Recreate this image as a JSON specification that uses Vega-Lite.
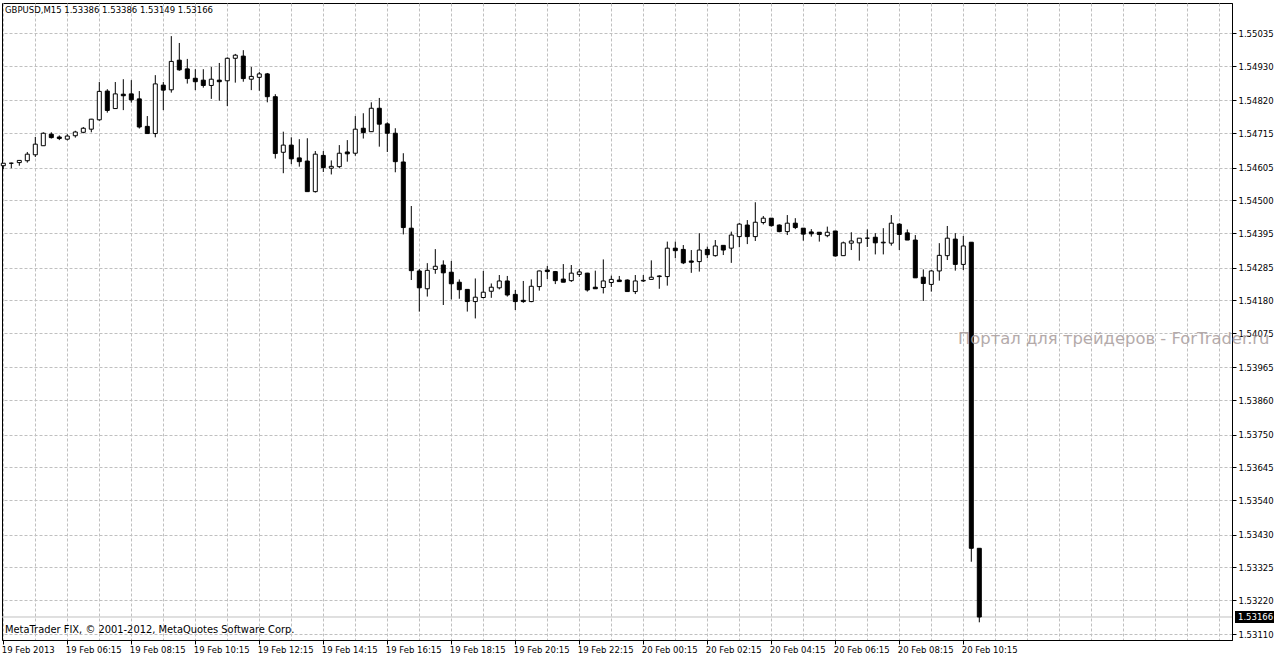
{
  "$schema": "https://vega.github.io/schema/vega-lite/v6.json",
  "width": 1230,
  "height": 637,
  "autosize": {"type": "none"},
  "padding": {"left": 2, "top": 3, "right": 42, "bottom": 15},
  "background": "white",
  "config": {
    "view": {"stroke": "black", "strokeWidth": 1},
    "axis": {"labelFont": "DejaVu Sans", "labelColor": "black", "domainColor": "black", "tickColor": "black"}
  },
  "data": {
    "format": {"parse": {"t": "utc:'%Y-%m-%d %H:%M'"}},
    "values": [
      {"t": "2013-02-19 04:15", "o": 1.54611, "h": 1.54619, "l": 1.54600, "c": 1.54619},
      {"t": "2013-02-19 04:30", "o": 1.54619, "h": 1.54621, "l": 1.54603, "c": 1.54619},
      {"t": "2013-02-19 04:45", "o": 1.54621, "h": 1.54628, "l": 1.54611, "c": 1.54628},
      {"t": "2013-02-19 05:00", "o": 1.54627, "h": 1.54655, "l": 1.54621, "c": 1.54648},
      {"t": "2013-02-19 05:15", "o": 1.54646, "h": 1.54703, "l": 1.54639, "c": 1.54680},
      {"t": "2013-02-19 05:30", "o": 1.54675, "h": 1.54718, "l": 1.54675, "c": 1.54715},
      {"t": "2013-02-19 05:45", "o": 1.54712, "h": 1.54718, "l": 1.54698, "c": 1.54701},
      {"t": "2013-02-19 06:00", "o": 1.54703, "h": 1.54708, "l": 1.54693, "c": 1.54698},
      {"t": "2013-02-19 06:15", "o": 1.54696, "h": 1.54712, "l": 1.54692, "c": 1.54706},
      {"t": "2013-02-19 06:30", "o": 1.54707, "h": 1.54723, "l": 1.54701, "c": 1.54719},
      {"t": "2013-02-19 06:45", "o": 1.54718, "h": 1.54735, "l": 1.54715, "c": 1.54731},
      {"t": "2013-02-19 07:00", "o": 1.54728, "h": 1.54761, "l": 1.54718, "c": 1.54760},
      {"t": "2013-02-19 07:15", "o": 1.54758, "h": 1.54879, "l": 1.54755, "c": 1.54849},
      {"t": "2013-02-19 07:30", "o": 1.54850, "h": 1.54856, "l": 1.54781, "c": 1.54788},
      {"t": "2013-02-19 07:45", "o": 1.54794, "h": 1.54879, "l": 1.54794, "c": 1.54841},
      {"t": "2013-02-19 08:00", "o": 1.54840, "h": 1.54888, "l": 1.54789, "c": 1.54835},
      {"t": "2013-02-19 08:15", "o": 1.54841, "h": 1.54885, "l": 1.54813, "c": 1.54822},
      {"t": "2013-02-19 08:30", "o": 1.54825, "h": 1.54850, "l": 1.54730, "c": 1.54735},
      {"t": "2013-02-19 08:45", "o": 1.54737, "h": 1.54770, "l": 1.54714, "c": 1.54714},
      {"t": "2013-02-19 09:00", "o": 1.54714, "h": 1.54901, "l": 1.54702, "c": 1.54873},
      {"t": "2013-02-19 09:15", "o": 1.54869, "h": 1.54879, "l": 1.54789, "c": 1.54853},
      {"t": "2013-02-19 09:30", "o": 1.54854, "h": 1.55026, "l": 1.54845, "c": 1.54945},
      {"t": "2013-02-19 09:45", "o": 1.54949, "h": 1.55004, "l": 1.54915, "c": 1.54918},
      {"t": "2013-02-19 10:00", "o": 1.54921, "h": 1.54953, "l": 1.54874, "c": 1.54890},
      {"t": "2013-02-19 10:15", "o": 1.54891, "h": 1.54920, "l": 1.54853, "c": 1.54880},
      {"t": "2013-02-19 10:30", "o": 1.54885, "h": 1.54920, "l": 1.54861, "c": 1.54868},
      {"t": "2013-02-19 10:45", "o": 1.54868, "h": 1.54927, "l": 1.54825, "c": 1.54888},
      {"t": "2013-02-19 11:00", "o": 1.54885, "h": 1.54940, "l": 1.54819, "c": 1.54880},
      {"t": "2013-02-19 11:15", "o": 1.54883, "h": 1.54958, "l": 1.54802, "c": 1.54955},
      {"t": "2013-02-19 11:30", "o": 1.54955, "h": 1.54969, "l": 1.54877, "c": 1.54965},
      {"t": "2013-02-19 11:45", "o": 1.54962, "h": 1.54981, "l": 1.54880, "c": 1.54890},
      {"t": "2013-02-19 12:00", "o": 1.54888, "h": 1.54927, "l": 1.54853, "c": 1.54897},
      {"t": "2013-02-19 12:15", "o": 1.54894, "h": 1.54911, "l": 1.54851, "c": 1.54905},
      {"t": "2013-02-19 12:30", "o": 1.54905, "h": 1.54908, "l": 1.54814, "c": 1.54832},
      {"t": "2013-02-19 12:45", "o": 1.54832, "h": 1.54840, "l": 1.54634, "c": 1.54650},
      {"t": "2013-02-19 13:00", "o": 1.54654, "h": 1.54720, "l": 1.54587, "c": 1.54677},
      {"t": "2013-02-19 13:15", "o": 1.54677, "h": 1.54702, "l": 1.54616, "c": 1.54633},
      {"t": "2013-02-19 13:30", "o": 1.54636, "h": 1.54696, "l": 1.54608, "c": 1.54624},
      {"t": "2013-02-19 13:45", "o": 1.54626, "h": 1.54699, "l": 1.54528, "c": 1.54528},
      {"t": "2013-02-19 14:00", "o": 1.54528, "h": 1.54658, "l": 1.54525, "c": 1.54648},
      {"t": "2013-02-19 14:15", "o": 1.54644, "h": 1.54658, "l": 1.54591, "c": 1.54605},
      {"t": "2013-02-19 14:30", "o": 1.54603, "h": 1.54628, "l": 1.54583, "c": 1.54609},
      {"t": "2013-02-19 14:45", "o": 1.54608, "h": 1.54677, "l": 1.54603, "c": 1.54651},
      {"t": "2013-02-19 15:00", "o": 1.54655, "h": 1.54693, "l": 1.54624, "c": 1.54649},
      {"t": "2013-02-19 15:15", "o": 1.54651, "h": 1.54770, "l": 1.54643, "c": 1.54728},
      {"t": "2013-02-19 15:30", "o": 1.54731, "h": 1.54779, "l": 1.54698, "c": 1.54717},
      {"t": "2013-02-19 15:45", "o": 1.54720, "h": 1.54814, "l": 1.54720, "c": 1.54795},
      {"t": "2013-02-19 16:00", "o": 1.54795, "h": 1.54828, "l": 1.54672, "c": 1.54744},
      {"t": "2013-02-19 16:15", "o": 1.54745, "h": 1.54750, "l": 1.54655, "c": 1.54715},
      {"t": "2013-02-19 16:30", "o": 1.54715, "h": 1.54731, "l": 1.54590, "c": 1.54624},
      {"t": "2013-02-19 16:45", "o": 1.54623, "h": 1.54651, "l": 1.54391, "c": 1.54413},
      {"t": "2013-02-19 17:00", "o": 1.54411, "h": 1.54482, "l": 1.54245, "c": 1.54275},
      {"t": "2013-02-19 17:15", "o": 1.54274, "h": 1.54280, "l": 1.54144, "c": 1.54220},
      {"t": "2013-02-19 17:30", "o": 1.54217, "h": 1.54299, "l": 1.54192, "c": 1.54276},
      {"t": "2013-02-19 17:45", "o": 1.54279, "h": 1.54344, "l": 1.54265, "c": 1.54289},
      {"t": "2013-02-19 18:00", "o": 1.54293, "h": 1.54308, "l": 1.54165, "c": 1.54268},
      {"t": "2013-02-19 18:15", "o": 1.54270, "h": 1.54306, "l": 1.54183, "c": 1.54233},
      {"t": "2013-02-19 18:30", "o": 1.54238, "h": 1.54247, "l": 1.54185, "c": 1.54214},
      {"t": "2013-02-19 18:45", "o": 1.54215, "h": 1.54215, "l": 1.54144, "c": 1.54176},
      {"t": "2013-02-19 19:00", "o": 1.54176, "h": 1.54250, "l": 1.54122, "c": 1.54190},
      {"t": "2013-02-19 19:15", "o": 1.54189, "h": 1.54274, "l": 1.54186, "c": 1.54206},
      {"t": "2013-02-19 19:30", "o": 1.54209, "h": 1.54234, "l": 1.54188, "c": 1.54222},
      {"t": "2013-02-19 19:45", "o": 1.54220, "h": 1.54261, "l": 1.54215, "c": 1.54242},
      {"t": "2013-02-19 20:00", "o": 1.54242, "h": 1.54258, "l": 1.54192, "c": 1.54197},
      {"t": "2013-02-19 20:15", "o": 1.54199, "h": 1.54213, "l": 1.54149, "c": 1.54176},
      {"t": "2013-02-19 20:30", "o": 1.54180, "h": 1.54242, "l": 1.54172, "c": 1.54176},
      {"t": "2013-02-19 20:45", "o": 1.54176, "h": 1.54247, "l": 1.54174, "c": 1.54225},
      {"t": "2013-02-19 21:00", "o": 1.54224, "h": 1.54275, "l": 1.54211, "c": 1.54274},
      {"t": "2013-02-19 21:15", "o": 1.54277, "h": 1.54290, "l": 1.54248, "c": 1.54272},
      {"t": "2013-02-19 21:30", "o": 1.54272, "h": 1.54274, "l": 1.54232, "c": 1.54243},
      {"t": "2013-02-19 21:45", "o": 1.54248, "h": 1.54296, "l": 1.54238, "c": 1.54238},
      {"t": "2013-02-19 22:00", "o": 1.54243, "h": 1.54293, "l": 1.54239, "c": 1.54267},
      {"t": "2013-02-19 22:15", "o": 1.54263, "h": 1.54280, "l": 1.54255, "c": 1.54271},
      {"t": "2013-02-19 22:30", "o": 1.54267, "h": 1.54268, "l": 1.54208, "c": 1.54213},
      {"t": "2013-02-19 22:45", "o": 1.54222, "h": 1.54275, "l": 1.54217, "c": 1.54217},
      {"t": "2013-02-19 23:00", "o": 1.54221, "h": 1.54311, "l": 1.54202, "c": 1.54242},
      {"t": "2013-02-19 23:15", "o": 1.54237, "h": 1.54259, "l": 1.54223, "c": 1.54247},
      {"t": "2013-02-19 23:30", "o": 1.54245, "h": 1.54258, "l": 1.54240, "c": 1.54240},
      {"t": "2013-02-19 23:45", "o": 1.54245, "h": 1.54247, "l": 1.54208, "c": 1.54208},
      {"t": "2013-02-20 00:00", "o": 1.54208, "h": 1.54261, "l": 1.54200, "c": 1.54242},
      {"t": "2013-02-20 00:15", "o": 1.54242, "h": 1.54261, "l": 1.54239, "c": 1.54244},
      {"t": "2013-02-20 00:30", "o": 1.54247, "h": 1.54308, "l": 1.54247, "c": 1.54254},
      {"t": "2013-02-20 00:45", "o": 1.54256, "h": 1.54260, "l": 1.54217, "c": 1.54258},
      {"t": "2013-02-20 01:00", "o": 1.54256, "h": 1.54368, "l": 1.54227, "c": 1.54347},
      {"t": "2013-02-20 01:15", "o": 1.54347, "h": 1.54368, "l": 1.54315, "c": 1.54339},
      {"t": "2013-02-20 01:30", "o": 1.54343, "h": 1.54357, "l": 1.54296, "c": 1.54300},
      {"t": "2013-02-20 01:45", "o": 1.54306, "h": 1.54341, "l": 1.54268, "c": 1.54302},
      {"t": "2013-02-20 02:00", "o": 1.54304, "h": 1.54395, "l": 1.54272, "c": 1.54341},
      {"t": "2013-02-20 02:15", "o": 1.54343, "h": 1.54352, "l": 1.54315, "c": 1.54326},
      {"t": "2013-02-20 02:30", "o": 1.54323, "h": 1.54373, "l": 1.54320, "c": 1.54354},
      {"t": "2013-02-20 02:45", "o": 1.54356, "h": 1.54356, "l": 1.54325, "c": 1.54341},
      {"t": "2013-02-20 03:00", "o": 1.54347, "h": 1.54400, "l": 1.54300, "c": 1.54389},
      {"t": "2013-02-20 03:15", "o": 1.54384, "h": 1.54428, "l": 1.54350, "c": 1.54424},
      {"t": "2013-02-20 03:30", "o": 1.54421, "h": 1.54437, "l": 1.54360, "c": 1.54384},
      {"t": "2013-02-20 03:45", "o": 1.54384, "h": 1.54494, "l": 1.54370, "c": 1.54430},
      {"t": "2013-02-20 04:00", "o": 1.54429, "h": 1.54450, "l": 1.54423, "c": 1.54443},
      {"t": "2013-02-20 04:15", "o": 1.54443, "h": 1.54443, "l": 1.54416, "c": 1.54419},
      {"t": "2013-02-20 04:30", "o": 1.54421, "h": 1.54423, "l": 1.54398, "c": 1.54400},
      {"t": "2013-02-20 04:45", "o": 1.54400, "h": 1.54453, "l": 1.54389, "c": 1.54427},
      {"t": "2013-02-20 05:00", "o": 1.54427, "h": 1.54443, "l": 1.54408, "c": 1.54413},
      {"t": "2013-02-20 05:15", "o": 1.54411, "h": 1.54411, "l": 1.54371, "c": 1.54392},
      {"t": "2013-02-20 05:30", "o": 1.54399, "h": 1.54408, "l": 1.54384, "c": 1.54393},
      {"t": "2013-02-20 05:45", "o": 1.54398, "h": 1.54398, "l": 1.54368, "c": 1.54391},
      {"t": "2013-02-20 06:00", "o": 1.54387, "h": 1.54416, "l": 1.54382, "c": 1.54398},
      {"t": "2013-02-20 06:15", "o": 1.54402, "h": 1.54402, "l": 1.54320, "c": 1.54322},
      {"t": "2013-02-20 06:30", "o": 1.54323, "h": 1.54368, "l": 1.54323, "c": 1.54364},
      {"t": "2013-02-20 06:45", "o": 1.54363, "h": 1.54398, "l": 1.54341, "c": 1.54370},
      {"t": "2013-02-20 07:00", "o": 1.54364, "h": 1.54379, "l": 1.54307, "c": 1.54379},
      {"t": "2013-02-20 07:15", "o": 1.54379, "h": 1.54407, "l": 1.54351, "c": 1.54379},
      {"t": "2013-02-20 07:30", "o": 1.54382, "h": 1.54395, "l": 1.54327, "c": 1.54364},
      {"t": "2013-02-20 07:45", "o": 1.54364, "h": 1.54411, "l": 1.54327, "c": 1.54366},
      {"t": "2013-02-20 08:00", "o": 1.54363, "h": 1.54453, "l": 1.54355, "c": 1.54427},
      {"t": "2013-02-20 08:15", "o": 1.54424, "h": 1.54427, "l": 1.54341, "c": 1.54391},
      {"t": "2013-02-20 08:30", "o": 1.54396, "h": 1.54407, "l": 1.54373, "c": 1.54373},
      {"t": "2013-02-20 08:45", "o": 1.54373, "h": 1.54389, "l": 1.54252, "c": 1.54252},
      {"t": "2013-02-20 09:00", "o": 1.54254, "h": 1.54279, "l": 1.54178, "c": 1.54234},
      {"t": "2013-02-20 09:15", "o": 1.54231, "h": 1.54277, "l": 1.54208, "c": 1.54274},
      {"t": "2013-02-20 09:30", "o": 1.54274, "h": 1.54363, "l": 1.54243, "c": 1.54324},
      {"t": "2013-02-20 09:45", "o": 1.54323, "h": 1.54418, "l": 1.54309, "c": 1.54379},
      {"t": "2013-02-20 10:00", "o": 1.54376, "h": 1.54395, "l": 1.54275, "c": 1.54295},
      {"t": "2013-02-20 10:15", "o": 1.54295, "h": 1.54386, "l": 1.54277, "c": 1.54354},
      {"t": "2013-02-20 10:30", "o": 1.54366, "h": 1.54366, "l": 1.53343, "c": 1.53386},
      {"t": "2013-02-20 10:45", "o": 1.53386, "h": 1.53386, "l": 1.53149, "c": 1.53166}
    ]
  },
  "layer": [
    {
      "data": {"values": [{}]},
      "mark": {"type": "rule", "color": "#c0c0c0", "strokeWidth": 1},
      "encoding": {"y": {"datum": 1.53166, "type": "quantitative", "title": null}}
    },
    {
      "mark": {"type": "rule", "color": "black", "strokeWidth": 1},
      "encoding": {
        "x": {
          "field": "t", "type": "temporal", "title": null,
          "scale": {"type": "utc", "domain": [1361247153750, 1361385528750], "nice": false, "padding": 0},
          "axis": {
            "values": [1361247300000, 1361250900000, 1361254500000, 1361258100000, 1361261700000, 1361265300000, 1361268900000, 1361272500000, 1361276100000, 1361279700000, 1361283300000, 1361286900000, 1361290500000, 1361294100000, 1361297700000, 1361301300000, 1361304900000, 1361308500000, 1361312100000, 1361315700000, 1361319300000, 1361322900000, 1361326500000, 1361330100000, 1361333700000, 1361337300000, 1361340900000, 1361344500000, 1361348100000, 1361351700000, 1361355300000, 1361358900000, 1361362500000, 1361366100000, 1361369700000, 1361373300000, 1361376900000, 1361380500000, 1361384100000],
            "tickCount": 500,
            "grid": true, "gridColor": "#c0c0c0", "gridDash": [3, 2], "gridWidth": 1,
            "tickSize": 4,
            "tickOpacity": {"condition": {"test": "utchours(datum.value) % 2 == 0 && time(datum.value) <= 1361355300000", "value": 1}, "value": 0},
            "labelExpr": "utchours(datum.value) % 2 == 0 && time(datum.value) <= 1361355300000 ? (time(datum.value) == 1361247300000 ? '19 Feb 2013' : utcFormat(datum.value, '%d %b %H:%M')) : ''",
            "labelAlign": "left", "labelBaseline": "top", "labelPadding": 1, "labelOffset": -2, "labelFontSize": 8.5,
            "labelOverlap": false, "labelFlush": false, "labelBound": false
          }
        },
        "y": {
          "field": "l", "type": "quantitative", "title": null,
          "scale": {"domain": [1.5309235, 1.5513202], "nice": false, "zero": false, "padding": 0},
          "axis": {
            "orient": "right",
            "values": [1.55035, 1.5493, 1.5482, 1.54715, 1.54605, 1.545, 1.54395, 1.54285, 1.5418, 1.54075, 1.53965, 1.5386, 1.5375, 1.53645, 1.5354, 1.5343, 1.53325, 1.5322, 1.5311],
            "tickCount": 500,
            "format": ".5f", "grid": true, "gridColor": "#c0c0c0", "gridDash": [3, 2], "gridWidth": 1,
            "tickSize": 4, "labelPadding": 2, "labelFontSize": 8.5, "labelOverlap": false, "labelFlush": false, "labelBound": false
          }
        },
        "y2": {"field": "h"}
      }
    },
    {
      "mark": {"type": "bar", "size": 4, "stroke": "black", "strokeWidth": 1},
      "encoding": {
        "x": {"field": "t", "type": "temporal", "title": null},
        "y": {"field": "o", "type": "quantitative", "title": null},
        "y2": {"field": "c"},
        "fill": {"condition": {"test": "datum.c < datum.o", "value": "black"}, "value": "white"}
      }
    },
    {
      "data": {"values": [{}]},
      "mark": {"type": "text", "text": "GBPUSD,M15  1.53386 1.53386 1.53149 1.53166", "align": "left", "baseline": "middle", "dx": 3, "font": "DejaVu Sans", "fontSize": 8.5, "color": "black"},
      "encoding": {"x": {"datum": 1361247153750, "type": "temporal", "title": null}, "y": {"datum": 1.551096, "type": "quantitative", "title": null}}
    },
    {
      "data": {"values": [{}]},
      "mark": {"type": "text", "text": "MetaTrader FIX, © 2001-2012, MetaQuotes Software Corp.", "align": "left", "baseline": "middle", "dx": 3, "font": "DejaVu Sans", "fontSize": 9.9, "color": "black"},
      "encoding": {"x": {"datum": 1361247153750, "type": "temporal", "title": null}, "y": {"datum": 1.531243, "type": "quantitative", "title": null}}
    },
    {
      "data": {"values": [{}]},
      "mark": {"type": "text", "text": "Портал для трейдеров - ForTrader.ru", "align": "left", "baseline": "middle", "font": "DejaVu Sans", "fontSize": 16.4, "color": "#a89c9c", "opacity": 0.85},
      "encoding": {"x": {"datum": 1361354703750, "type": "temporal", "title": null}, "y": {"datum": 1.540561, "type": "quantitative", "title": null}}
    },
    {
      "data": {"values": [{}]},
      "mark": {"type": "rect", "color": "black"},
      "encoding": {
        "x": {"datum": 1361385866250, "type": "temporal", "title": null},
        "x2": {"datum": 1361390253750},
        "y": {"datum": 1.531852, "type": "quantitative", "title": null},
        "y2": {"datum": 1.531468}
      }
    },
    {
      "data": {"values": [{}]},
      "mark": {"type": "text", "text": "1.53166", "align": "left", "baseline": "middle", "font": "DejaVu Sans", "fontSize": 8.5, "color": "white"},
      "encoding": {"x": {"datum": 1361386203750, "type": "temporal", "title": null}, "y": {"datum": 1.53166, "type": "quantitative", "title": null}}
    }
  ]
}
